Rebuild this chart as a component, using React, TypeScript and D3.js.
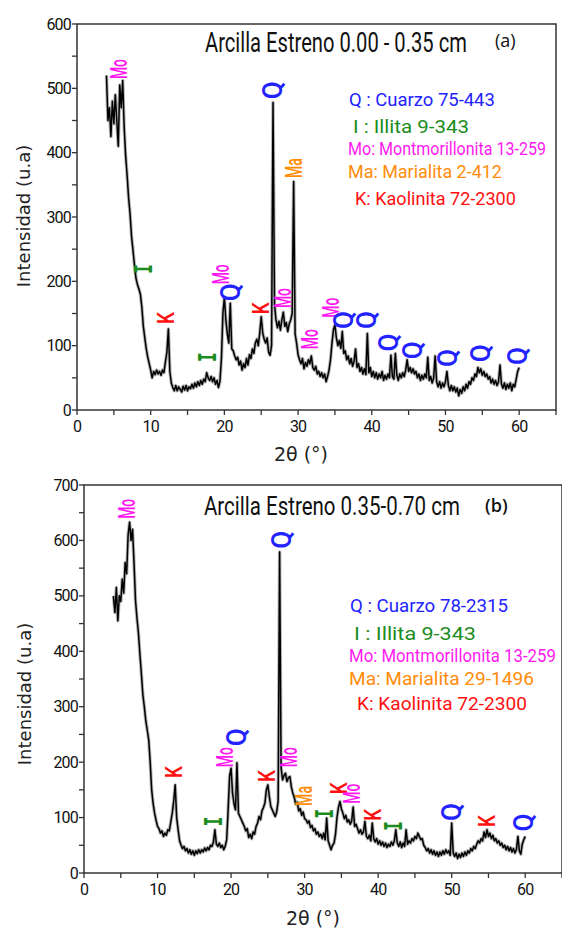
import React, { useLayoutEffect, useRef, useState } from 'react'
import * as d3 from 'd3'

// XRD counts, every 0.2° (2θ) from 4° to 60°
const START = 4
const STEP = 0.2

// (a) Arcilla Estreno 0.00 - 0.35 cm
const countsA = [
  520, 450, 470, 425, 480, 445, 490, 450, 410, 505, // 4
  470, 512, 440, 395, 365, 330, 305, 270, 248, 225, // 6
  205, 195, 188, 180, 160, 130, 112, 95, 82, 72, // 8
  62, 50, 60, 55, 62, 56, 60, 54, 62, 58, // 10
  75, 90, 126, 60, 42, 35, 30, 38, 30, 36, // 12
  32, 28, 37, 31, 38, 30, 36, 33, 40, 34, // 14
  42, 36, 44, 38, 46, 40, 48, 44, 58, 50, // 16
  46, 52, 44, 50, 40, 46, 35, 45, 80, 150, // 18
  175, 140, 118, 104, 166, 95, 92, 84, 78, 82, // 20
  70, 76, 62, 72, 66, 80, 70, 86, 80, 95, // 22
  88, 104, 110, 100, 120, 145, 120, 110, 104, 112, // 24
  90, 85, 100, 478, 165, 140, 128, 138, 124, 140, // 26
  152, 130, 136, 122, 134, 140, 150, 355, 118, 104, // 28
  86, 78, 72, 80, 64, 74, 68, 78, 72, 84, // 30
  66, 62, 68, 56, 60, 52, 58, 50, 56, 44, // 32
  52, 62, 78, 104, 125, 132, 112, 100, 108, 96, // 34
  122, 88, 92, 78, 84, 72, 80, 68, 76, 95, // 36
  66, 72, 60, 66, 56, 64, 55, 119, 58, 66, // 38
  52, 60, 50, 58, 48, 56, 50, 60, 46, 54, // 40
  48, 56, 50, 85, 52, 48, 88, 54, 46, 56, // 42
  50, 58, 52, 62, 78, 60, 66, 58, 64, 56, // 44
  60, 50, 56, 46, 54, 48, 56, 50, 82, 46, // 46
  52, 42, 50, 84, 44, 36, 44, 34, 42, 36, // 48
  44, 60, 38, 30, 38, 30, 36, 28, 34, 22, // 50
  32, 26, 36, 30, 40, 34, 44, 40, 50, 46, // 52
  56, 52, 66, 58, 64, 54, 60, 52, 56, 48, // 54
  52, 42, 48, 40, 46, 38, 44, 70, 40, 34, // 56
  42, 32, 40, 34, 42, 30, 40, 36, 48, 60, // 58
  66,
]

// (b) Arcilla Estreno 0.35-0.70 cm
const countsB = [
  500, 470, 515, 455, 500, 490, 530, 505, 560, 540, // 4
  610, 633, 600, 620, 560, 492, 460, 433, 395, 360, // 6
  322, 300, 275, 258, 240, 200, 150, 125, 108, 95, // 8
  84, 80, 72, 76, 66, 72, 68, 78, 76, 92, // 10
  108, 130, 159, 100, 78, 58, 50, 44, 48, 40, // 12
  44, 36, 42, 34, 40, 32, 40, 35, 42, 36, // 14
  42, 38, 45, 40, 46, 42, 50, 48, 56, 78, // 16
  52, 48, 54, 46, 50, 42, 48, 60, 114, 175, // 18
  189, 144, 125, 114, 199, 108, 102, 96, 90, 84, // 20
  76, 80, 64, 70, 62, 74, 70, 84, 90, 102, // 22
  96, 112, 118, 126, 150, 159, 138, 120, 114, 108, // 24
  102, 110, 130, 579, 190, 168, 176, 180, 165, 172, // 26
  174, 155, 144, 136, 124, 128, 112, 116, 104, 110, // 28
  98, 96, 90, 94, 82, 86, 76, 80, 70, 74, // 30
  66, 70, 62, 72, 60, 99, 58, 50, 42, 50, // 32
  54, 70, 100, 118, 129, 116, 108, 98, 104, 92, // 34
  96, 88, 94, 119, 84, 88, 80, 72, 78, 70, // 36
  74, 93, 66, 62, 68, 58, 90, 62, 56, 62, // 38
  52, 58, 50, 56, 48, 54, 46, 52, 48, 56, // 40
  50, 58, 78, 54, 48, 56, 46, 54, 48, 78, // 42
  52, 58, 54, 62, 58, 66, 62, 72, 66, 60, // 44
  62, 50, 46, 40, 44, 36, 42, 34, 40, 32, // 46
  38, 30, 38, 32, 40, 34, 42, 36, 40, 32, // 48
  90, 36, 30, 36, 26, 34, 28, 36, 30, 38, // 50
  32, 40, 36, 44, 40, 48, 44, 52, 58, 54, // 52
  62, 58, 74, 64, 78, 66, 72, 62, 68, 58, // 54
  62, 54, 58, 50, 54, 46, 50, 42, 48, 40, // 56
  46, 38, 44, 36, 42, 66, 40, 34, 52, 60, // 58
  66,
]

// phase marks: [phase, 2θ, intensity of the label centre]
const marksA: [string, number, number][] = [
  ['Mo', 5.7, 530], ['I', 9.1, 219], ['K', 12.0, 143], ['I', 17.8, 82],
  ['Mo', 19.5, 211], ['Q', 20.8, 183], ['K', 24.9, 158], ['Q', 26.5, 497],
  ['Mo', 27.9, 174], ['Ma', 29.5, 376], ['Mo', 31.6, 110], ['Mo', 34.5, 159],
  ['Q', 36.2, 140], ['Q', 39.2, 140], ['Q', 42.3, 105], ['Q', 45.5, 93],
  ['Q', 50.2, 81], ['Q', 54.7, 88], ['Q', 59.7, 84],
]
const marksB: [string, number, number][] = [
  ['Mo', 5.9, 657], ['K', 12.2, 182], ['I', 17.6, 93], ['Mo', 19.2, 209],
  ['Q', 20.7, 245], ['K', 24.8, 175], ['Q', 26.8, 601], ['Mo', 27.9, 209],
  ['Ma', 29.9, 139], ['I', 32.7, 107], ['K', 34.6, 153], ['Mo', 36.5, 143],
  ['K', 39.3, 105], ['I', 42.1, 85], ['Q', 49.9, 110], ['K', 54.8, 94],
  ['Q', 59.8, 91],
]

const legendA = [
  ['Q', 'Q : Cuarzo 75-443'],
  ['I', 'I : Illita 9-343'],
  ['Mo', 'Mo: Montmorillonita 13-259'],
  ['Ma', 'Ma: Marialita 2-412'],
  ['K', 'K: Kaolinita 72-2300'],
]
const legendB = [
  ['Q', 'Q : Cuarzo 78-2315'],
  ['I', 'I : Illita 9-343'],
  ['Mo', 'Mo: Montmorillonita 13-259'],
  ['Ma', 'Ma: Marialita 29-1496'],
  ['K', 'K: Kaolinita 72-2300'],
]

const phaseColor: Record<string, string> = {
  Q: '#2323ff',
  I: '#1c8c1c',
  Mo: '#ff19f0',
  Ma: '#ff8c0a',
  K: '#ff1010',
}

const panels = [
  {
    counts: countsA, marks: marksA, legend: legendA, yMax: 600,
    left: 77, right: 556, top: 24, bottom: 410,
    title: 'Arcilla Estreno 0.00 - 0.35 cm', titleX: 205, titleW: 262, titleY: 52, titleSize: 28,
    tag: '(a)', tagX: 495, tagY: 47, tagWeight: 400,
    legX: [349, 353, 348, 348, 355], legW: [146, 116, 198, 154, 161], legY: [99, 126, 148, 171, 198],
    xTitleX: 301, xTitleY: 461, yTitleX: 23, yTitleY: 216,
  },
  {
    counts: countsB, marks: marksB, legend: legendB, yMax: 700,
    left: 84, right: 562, top: 485, bottom: 873,
    title: 'Arcilla Estreno 0.35-0.70 cm', titleX: 204, titleW: 256, titleY: 515, titleSize: 25,
    tag: '(b)', tagX: 485, tagY: 512, tagWeight: 600,
    legX: [350, 354, 349, 349, 357], legW: [158, 122, 207, 185, 170], legY: [605, 633, 655, 678, 703],
    xTitleX: 313, xTitleY: 925, yTitleX: 24, yTitleY: 694,
  },
]

// text squeezed (or stretched) to a given width, the way the figure's lettering is
const FitText = ({ x, y, w, rotate = 0, children, ...rest }: any) => {
  const ref = useRef<SVGTextElement>(null)
  const [k, setK] = useState(1)
  useLayoutEffect(() => {
    if (ref.current) {
      const len = ref.current.getComputedTextLength()
      if (len > 0) setK(w / len)
    }
  }, [w, children])
  const rot = rotate ? ` rotate(${rotate})` : ''
  return (
    <text ref={ref} transform={`translate(${x},${y})${rot} scale(${k},1)`} {...rest}>
      {children}
    </text>
  )
}

const markStyle: Record<string, any> = {
  Q: { size: 27, w: 18, font: 'Roboto, sans-serif', weight: 500 },
  I: { size: 24, w: 10, font: "'DejaVu Sans Mono', monospace", weight: 700 },
  Mo: { size: 24, w: 20, font: 'Roboto, sans-serif', weight: 500 },
  Ma: { size: 24, w: 20, font: 'Roboto, sans-serif', weight: 500 },
  K: { size: 24, w: 12, font: 'Roboto, sans-serif', weight: 500 },
}

const Panel = ({ p }: { p: any }) => {
  const x = d3.scaleLinear().domain([0, 65]).range([p.left, p.right])
  const y = d3.scaleLinear().domain([0, p.yMax]).range([p.bottom, p.top])
  const pts: [number, number][] = p.counts.map((v: number, i: number) => [START + i * STEP, v])
  const line = d3.line<[number, number]>().x((d) => x(d[0])).y((d) => y(d[1]))
  const xTicks = d3.range(0, 66, 5)
  const yTicks = d3.range(0, p.yMax + 1, 50)
  const d = line(pts) || ''

  return (
    <g>
      {/* grey fringe + black trace, like the dense noisy scan */}
      <path d={d} fill="none" stroke="#777" strokeOpacity={0.55} strokeWidth={3.4} strokeLinejoin="round" />
      <path d={d} fill="none" stroke="#000" strokeWidth={1.5} strokeLinejoin="round" />

      {/* frame */}
      <rect x={p.left} y={p.top} width={p.right - p.left} height={p.bottom - p.top}
        fill="none" stroke="#333" strokeWidth={1.5} />

      {xTicks.map((t) => (
        <g key={'x' + t}>
          <line x1={x(t)} x2={x(t)} y1={p.bottom} y2={p.bottom + 5} stroke="#333" strokeWidth={1.3} />
          {t % 10 === 0 && t <= 60 && (
            <text x={x(t)} y={p.bottom + 22} textAnchor="middle" fontSize={16}
              letterSpacing={-0.8} fontFamily="Roboto, sans-serif" fill="#111">{t}</text>
          )}
        </g>
      ))}
      {yTicks.map((t) => (
        <g key={'y' + t}>
          <line x1={p.left - 5} x2={p.left} y1={y(t)} y2={y(t)} stroke="#333" strokeWidth={1.3} />
          {t % 100 === 0 && (
            <text x={p.left - 6} y={y(t) + 5.5} textAnchor="end" fontSize={16}
              letterSpacing={-0.8} fontFamily="Roboto, sans-serif" fill="#111">{t}</text>
          )}
        </g>
      ))}

      <text x={p.xTitleX} y={p.xTitleY} textAnchor="middle" fontSize={19}
        fontFamily="'DejaVu Sans', sans-serif" fill="#222">2θ (°)</text>
      <text transform={`translate(${p.yTitleX},${p.yTitleY}) rotate(-90)`} textAnchor="middle"
        dominantBaseline="central" fontSize={18} fontFamily="'DejaVu Sans', sans-serif" fill="#222">
        Intensidad (u.a)
      </text>

      <FitText x={p.titleX} y={p.titleY} w={p.titleW} fontSize={p.titleSize}
        fontFamily="Roboto, sans-serif" fill="#111">{p.title}</FitText>
      <text x={p.tagX} y={p.tagY} fontSize={18} fontWeight={p.tagWeight}
        fontFamily="'Open Sans', sans-serif" fill="#111">{p.tag}</text>

      {p.legend.map((l: string[], i: number) => (
        <FitText key={'l' + i} x={p.legX[i]} y={p.legY[i] + 6.5} w={p.legW[i]} fontSize={19}
          fontFamily="Roboto, sans-serif" fill={phaseColor[l[0]]}>
          {l[1]}
        </FitText>
      ))}

      {p.marks.map((m: [string, number, number], i: number) => {
        const [ph, t, v] = m
        const s = markStyle[ph]
        return (
          <FitText key={'m' + i} x={x(t)} y={y(v)} w={s.w} rotate={-90}
            textAnchor="middle" dominantBaseline="central" fontSize={s.size}
            fontWeight={s.weight} fontFamily={s.font} fill={phaseColor[ph]}>
            {ph}
          </FitText>
        )
      })}
    </g>
  )
}

export default function App() {
  return (
    <svg width={562} height={931} style={{ position: 'absolute', left: 0, top: 0, background: '#fff' }}>
      <rect width={562} height={931} fill="#fff" />
      {panels.map((p, i) => (
        <Panel key={i} p={p} />
      ))}
    </svg>
  )
}
